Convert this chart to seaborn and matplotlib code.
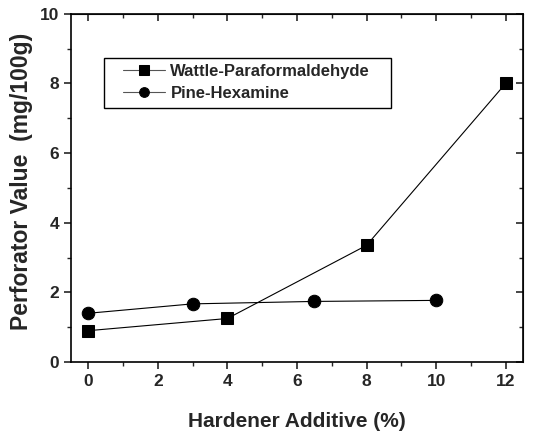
import matplotlib
matplotlib.use("Agg")
import matplotlib.pyplot as plt
import seaborn as sns
import pandas as pd
from matplotlib.ticker import MultipleLocator
from matplotlib.lines import Line2D
from matplotlib.legend_handler import HandlerLine2D

wattle_x = [0, 4, 8, 12]
wattle_y = [0.9, 1.25, 3.35, 8.0]
pine_x = [0, 3, 6.5, 10]
pine_y = [1.4, 1.67, 1.74, 1.77]
series_names = ["Wattle-Paraformaldehyde", "Pine-Hexamine"]

df = pd.concat([
    pd.DataFrame({"x": wattle_x, "y": wattle_y, "series": series_names[0]}),
    pd.DataFrame({"x": pine_x, "y": pine_y, "series": series_names[1]}),
], ignore_index=True)

sns.set_style("ticks")
plt.rcParams['font.family'] = ['Liberation Sans', 'DejaVu Sans']
plt.rcParams['font.weight'] = 'bold'

fig = plt.figure(figsize=(5.37, 4.32), dpi=100)
ax = fig.add_axes([0.132, 0.162, 0.842, 0.806])

sns.lineplot(data=df, x="x", y="y", hue="series", style="series",
             markers={series_names[0]: "s", series_names[1]: "o"},
             dashes=False, palette=["black", "black"], linewidth=0.8,
             markersize=9, markeredgecolor="black", ax=ax, sort=False)
for ln in ax.lines:
    if ln.get_marker() == 's':
        ln.set_markersize(8.2)

ax.set_xlim(-0.5, 12.5)
ax.set_ylim(0, 10)
ax.xaxis.set_major_locator(MultipleLocator(2))
ax.xaxis.set_minor_locator(MultipleLocator(1))
ax.yaxis.set_major_locator(MultipleLocator(2))
ax.yaxis.set_minor_locator(MultipleLocator(1))
ax.tick_params(which='major', direction='out', length=5, width=1.2, labelsize=12.5)
ax.tick_params(which='minor', direction='out', length=3, width=1.0)
for lbl in ax.get_xticklabels() + ax.get_yticklabels():
    lbl.set_fontweight('bold')

for s in ax.spines.values():
    s.set_linewidth(1.2)
    s.set_color('black')

secx = ax.secondary_xaxis('top')
secx.xaxis.set_major_locator(MultipleLocator(2))
secx.xaxis.set_minor_locator(MultipleLocator(1))
secx.tick_params(which='major', direction='in', length=5, width=1.2, labeltop=False)
secx.tick_params(which='minor', direction='in', length=3, width=1.0)
secy = ax.secondary_yaxis('right')
secy.yaxis.set_major_locator(MultipleLocator(2))
secy.yaxis.set_minor_locator(MultipleLocator(1))
secy.tick_params(which='major', direction='in', length=5, width=1.2, labelright=False)
secy.tick_params(which='minor', direction='in', length=3, width=1.0)

ax.set_xlabel("Hardener Additive (%)", fontsize=15, fontweight='bold', labelpad=16.5)
ax.set_ylabel("Perforator Value  (mg/100g)", fontsize=16.5, fontweight='bold')
ax.yaxis.set_label_coords(-0.084, 0.52)

leg = ax.legend(loc='upper left', bbox_to_anchor=(0.073, 0.874, 0.635, 0.0),
                mode='expand', fontsize=12,
                frameon=True, fancybox=False, edgecolor='black', framealpha=1,
                handlelength=3.3, handletextpad=0.3, borderpad=0.39,
                labelspacing=0.42, borderaxespad=0,
                handler_map={Line2D: HandlerLine2D(xpad=0.78)})
leg.get_frame().set_linewidth(1.0)
for t in leg.get_texts():
    t.set_fontweight('bold')
for h in leg.legend_handles:
    h.set_color('#555555')
    h.set_markerfacecolor('black')
    h.set_markeredgecolor('black')
    h.set_markersize(7)

fig.savefig("out.png", dpi=100)
